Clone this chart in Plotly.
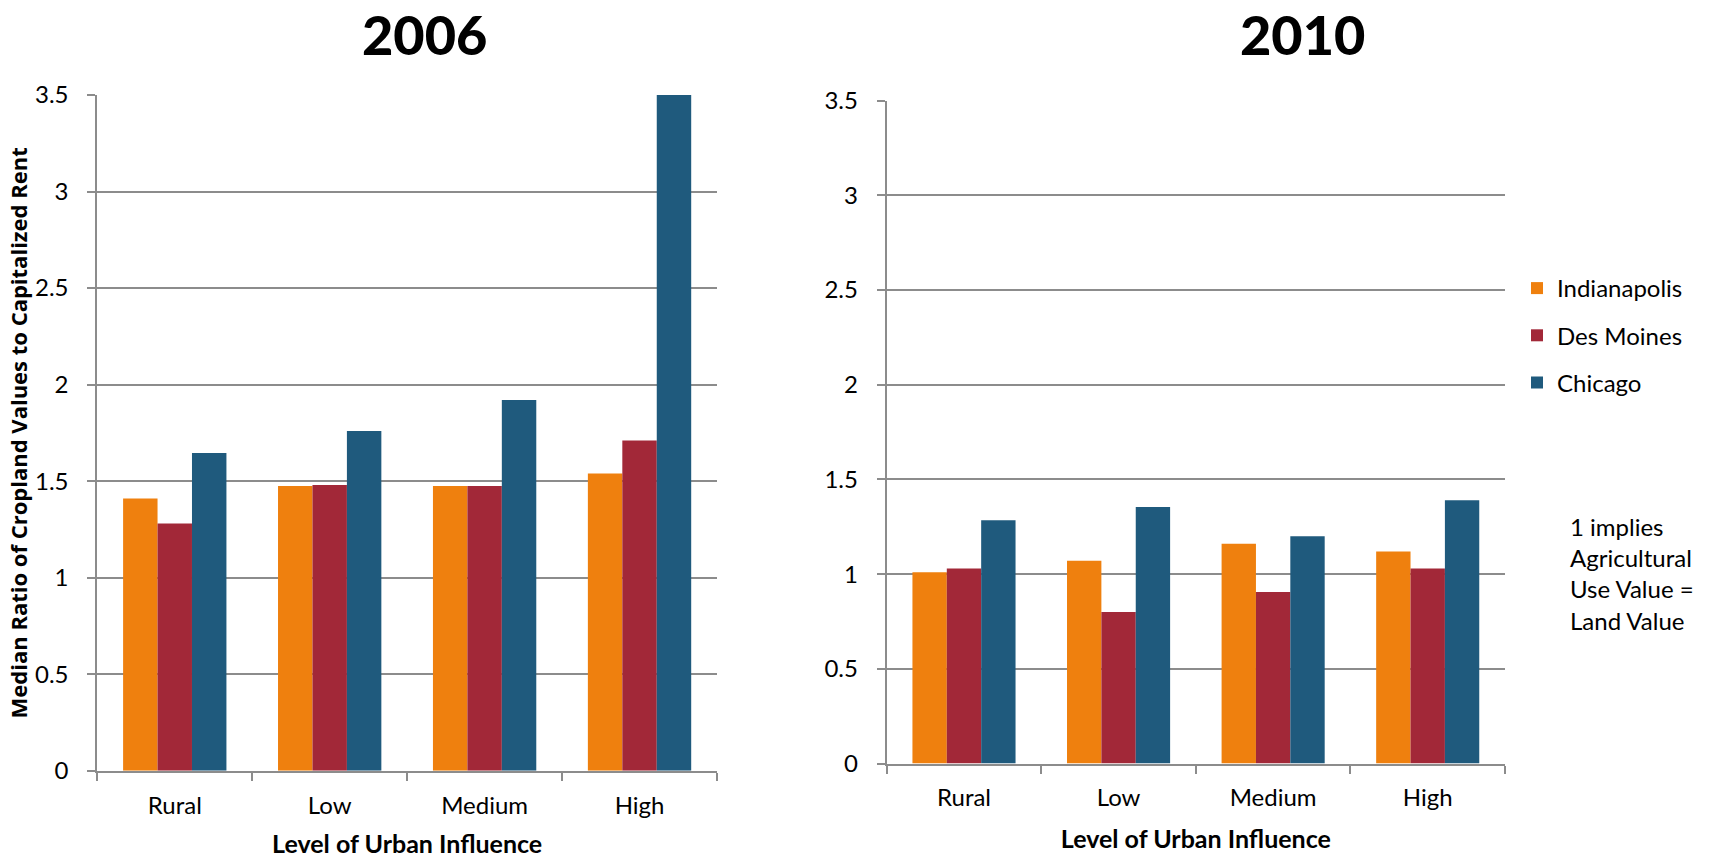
import plotly.graph_objects as go

W, H = 1713, 858

categories = ["Rural", "Low", "Medium", "High"]
cities = ["Indianapolis", "Des Moines", "Chicago"]
colors = {"Indianapolis": "#EF800E", "Des Moines": "#A22838", "Chicago": "#1F5A7D"}

indianapolis_2006 = [1.41, 1.475, 1.475, 1.54]
des_moines_2006 = [1.28, 1.48, 1.475, 1.71]
chicago_2006 = [1.645, 1.76, 1.92, 3.5]

indianapolis_2010 = [1.01, 1.07, 1.16, 1.12]
des_moines_2010 = [1.03, 0.80, 0.905, 1.03]
chicago_2010 = [1.285, 1.355, 1.20, 1.39]

y_ticks = [0, 0.5, 1, 1.5, 2, 2.5, 3, 3.5]
note_lines = ["1 implies", "Agricultural", "Use Value =", "Land Value"]

data_2006 = {"Indianapolis": indianapolis_2006, "Des Moines": des_moines_2006, "Chicago": chicago_2006}
data_2010 = {"Indianapolis": indianapolis_2010, "Des Moines": des_moines_2010, "Chicago": chicago_2010}

FONT = "Lato, Carlito, Calibri, 'Open Sans', sans-serif"
GRID = "#8C8C8C"
FS = 24

fig = go.Figure()
for c in cities:
    fig.add_trace(go.Bar(x=categories, y=data_2006[c], name=c, marker_color=colors[c],
                         marker_line_width=0, xaxis="x", yaxis="y",
                         legendgroup=c, showlegend=False))
for c in cities:
    fig.add_trace(go.Bar(x=categories, y=data_2010[c], name=c, marker_color=colors[c],
                         marker_line_width=0, xaxis="x2", yaxis="y2",
                         legendgroup=c, showlegend=True))


def px_x(p):
    return p / W


def px_y(p):
    return 1 - p / H


xaxis_common = dict(
    type="category", showline=True, linecolor=GRID, linewidth=2,
    ticks="outside", ticklen=8, tickwidth=2, tickcolor=GRID, tickson="boundaries",
    showgrid=False, zeroline=False, automargin=False,
    tickfont=dict(family=FONT, size=FS, color="#000"),
    ticklabelstandoff=12,
)
yaxis_common = dict(
    range=[0, 3.5], tickvals=y_ticks, showline=True, linecolor=GRID, linewidth=2,
    ticks="outside", ticklen=8, tickwidth=2, tickcolor=GRID,
    showgrid=True, gridcolor=GRID, gridwidth=2, zeroline=False, automargin=False,
    tickfont=dict(family=FONT, size=FS, color="#000"),
    ticklabelstandoff=14,
)
xtitle_font = dict(family=FONT, size=25, color="#000", weight="bold")

fig.update_layout(
    width=W, height=H,
    margin=dict(l=0, r=0, t=0, b=0),
    paper_bgcolor="white", plot_bgcolor="white",
    barmode="group", bargap=0.333, bargroupgap=0,
    font=dict(family=FONT, color="#000"),
    xaxis=dict(xaxis_common, domain=[px_x(97.3), px_x(717)], anchor="y",
               title=dict(text="Level of Urban Influence", standoff=26, font=xtitle_font)),
    yaxis=dict(yaxis_common, domain=[px_y(770.7), px_y(95)], anchor="x",
               title=dict(text="Median Ratio of Cropland Values to Capitalized Rent", standoff=1,
                          font=dict(family="'Open Sans', sans-serif", size=22, color="#000", weight="bold"))),
    xaxis2=dict(xaxis_common, domain=[px_x(886.7), px_x(1505)], anchor="y2",
                title=dict(text="Level of Urban Influence", standoff=20, font=xtitle_font)),
    yaxis2=dict(yaxis_common, domain=[px_y(763.5), px_y(100.7)], anchor="x2"),
    legend=dict(x=px_x(1517), xanchor="left", y=px_y(335.5), yanchor="middle",
                font=dict(family=FONT, size=FS, color="#000"),
                traceorder="grouped", tracegroupgap=13, bgcolor="rgba(0,0,0,0)"),
    showlegend=True,
)

annotations = [
    dict(text="2006", x=px_x(424), y=1, xref="paper", yref="paper",
         xanchor="center", yanchor="top", showarrow=False,
         font=dict(family=FONT, size=54, color="#000", weight=900)),
    dict(text="2010", x=px_x(1302), y=1, xref="paper", yref="paper",
         xanchor="center", yanchor="top", showarrow=False,
         font=dict(family=FONT, size=54, color="#000", weight=900)),
]
note_centers = [526.5, 557.7, 588.9, 620.1]
for line, yc in zip(note_lines, note_centers):
    annotations.append(dict(text=line, x=px_x(1568), y=px_y(yc), xref="paper", yref="paper",
                            xanchor="left", yanchor="middle", showarrow=False,
                            font=dict(family=FONT, size=FS, color="#000")))
fig.update_layout(annotations=annotations)

fig.write_html("out.html")
